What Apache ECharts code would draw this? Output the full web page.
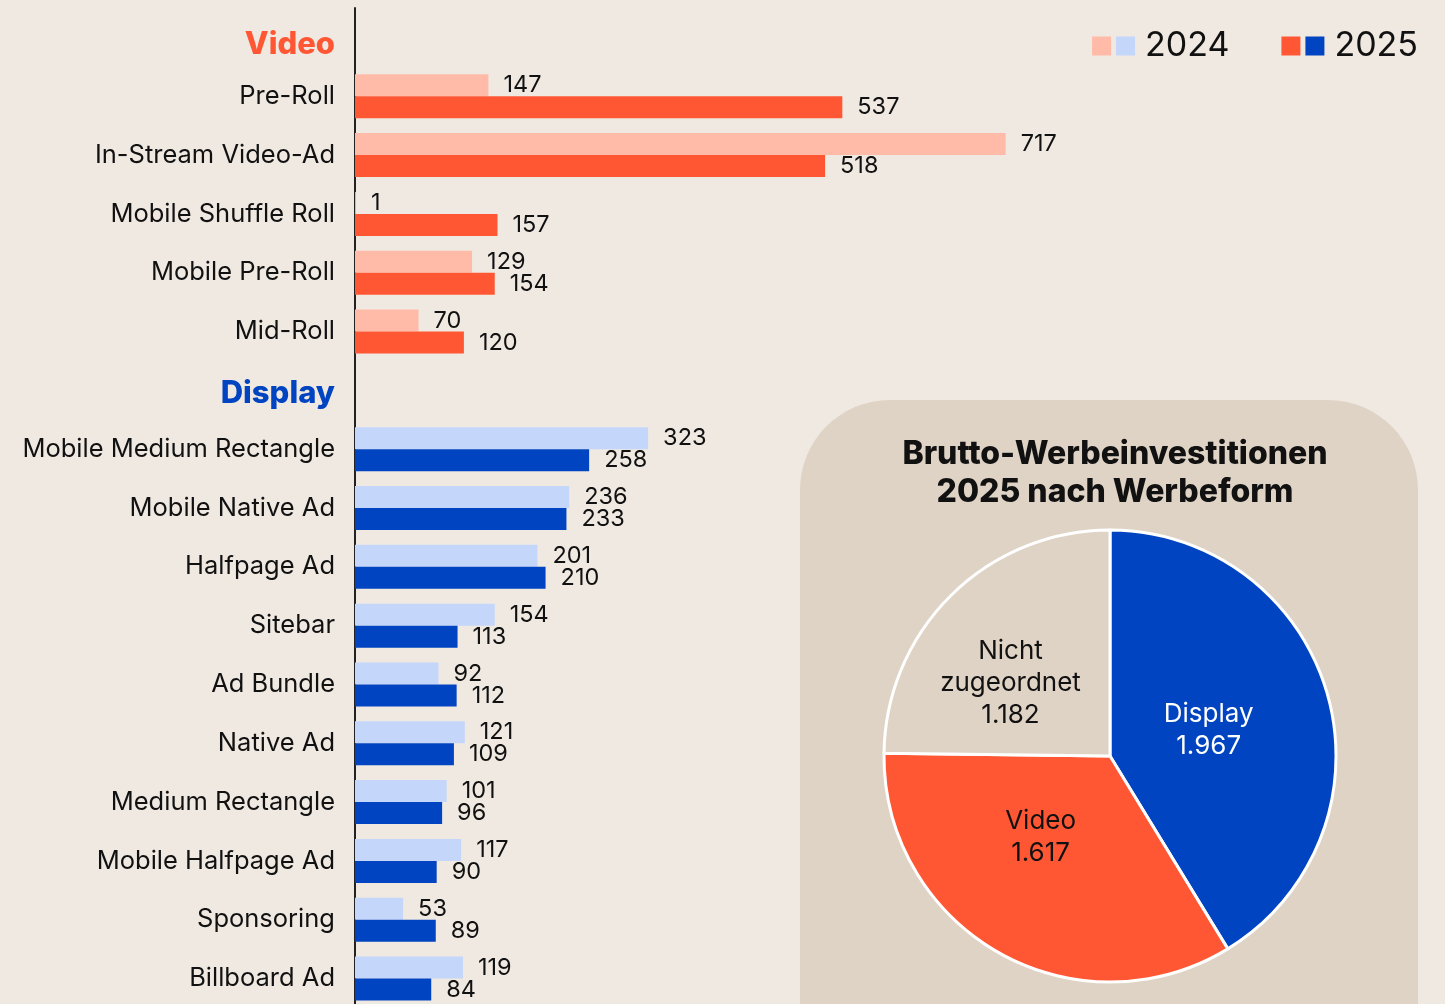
<!DOCTYPE html>
<html>
<head>
<meta charset="utf-8">
<script src="https://cdn.jsdelivr.net/npm/echarts@6/dist/echarts.min.js"></script>
<style>
  html, body { margin: 0; padding: 0; background: #F0E9E2; }
  #chart { width: 1445px; height: 1004px; }
</style>
</head>
<body>
<div id="chart"></div>
<script>
// Kategorien (Zwischenüberschriften haben keine Balken)
var categories = [
  'Video', 'Pre-Roll', 'In-Stream Video-Ad', 'Mobile Shuffle Roll', 'Mobile Pre-Roll', 'Mid-Roll',
  'Display', 'Mobile Medium Rectangle', 'Mobile Native Ad', 'Halfpage Ad', 'Sitebar', 'Ad Bundle',
  'Native Ad', 'Medium Rectangle', 'Mobile Halfpage Ad', 'Sponsoring', 'Billboard Ad'
];
var groups = [
  'head', 'video', 'video', 'video', 'video', 'video',
  'head', 'display', 'display', 'display', 'display', 'display',
  'display', 'display', 'display', 'display', 'display'
];
var values2024 = [null, 147, 717, 1, 129, 70, null, 323, 236, 201, 154, 92, 121, 101, 117, 53, 119];
var values2025 = [null, 537, 518, 157, 154, 120, null, 258, 233, 210, 113, 112, 109, 96, 90, 89, 84];

// Kreisdiagramm
var pieNames = ['Display', 'Video', 'Nicht\nzugeordnet'];
var pieValues = [1967, 1617, 1182];

var seriesNames = ['2024', '2025'];

var colors = {
  video: ['#FFBBA8', '#FF5733'],
  display: ['#C4D6FA', '#0044C1']
};
var pieColors = ['#0044C1', '#FF5733', '#DFD3C6'];
var pieLabelColors = ['#ffffff', '#111111', '#111111'];
// kleine Verschiebung der Kreis-Beschriftungen
var pieLabelShift = [[-13, 6], [-12, -20], [-18, 10]];

var font = 'Inter, "Noto Sans", sans-serif';

function barData(values, idx) {
  return values.map(function (v, i) {
    if (v === null) return '-';
    return { value: v, itemStyle: { color: colors[groups[i]][idx] } };
  });
}

function deNumber(n) {
  return String(n).replace(/\B(?=(\d{3})+(?!\d))/g, '.');
}

var chartDom = document.getElementById('chart');
var myChart = echarts.init(chartDom);

var barLabel = {
  show: true,
  position: 'right',
  distance: 15,
  fontSize: 23.5,
  color: '#111111',
  fontFamily: font
};

var option = {
  backgroundColor: '#F0E9E2',
  textStyle: { fontFamily: font },
  animation: false,
  title: {
    text: 'Brutto-Werbeinvestitionen\n2025 nach Werbeform',
    left: 1110,
    top: 430,
    textAlign: 'center',
    textStyle: {
      fontFamily: font,
      fontSize: 32,
      fontWeight: 800,
      lineHeight: 38,
      color: '#111111'
    }
  },
  graphic: [
    {
      type: 'rect',
      z: -10,
      shape: { x: 800, y: 400, width: 618, height: 720, r: 90 },
      style: { fill: '#DFD3C6' }
    }
  ],
  legend: {
    right: 22,
    top: 24,
    itemWidth: 19,
    itemHeight: 19,
    itemGap: 52,
    icon: 'rect',
    data: seriesNames,
    formatter: function (name) {
      return (name === '2024' ? '{b1|}' : '{b2|}') + '{t|' + name + '}';
    },
    textStyle: {
      rich: {
        b1: { width: 19, height: 19, backgroundColor: '#C4D6FA' },
        b2: { width: 19, height: 19, backgroundColor: '#0044C1' },
        t: { fontSize: 34, color: '#111111', padding: [0, 0, 0, 10], fontFamily: font }
      }
    }
  },
  grid: {
    left: 355,
    width: 726,
    top: 8,
    height: 1000,
    outerBoundsMode: 'none',
    containLabel: false
  },
  xAxis: {
    type: 'value',
    min: 0,
    max: 800,
    show: false
  },
  yAxis: {
    type: 'category',
    inverse: true,
    data: categories,
    axisLine: { show: true, lineStyle: { color: '#222222', width: 2 } },
    axisTick: { show: false },
    axisLabel: {
      margin: 20,
      fontSize: 25.5,
      color: '#111111',
      fontFamily: font,
      formatter: function (value) {
        if (value === 'Video') return '{hv|Video}';
        if (value === 'Display') return '{hd|Display}';
        return value;
      },
      rich: {
        hv: { fontSize: 31, fontWeight: 800, color: '#FF5733', padding: [14, 0, 0, 0], fontFamily: font },
        hd: { fontSize: 31, fontWeight: 800, color: '#0044C1', padding: [6, 0, 0, 0], fontFamily: font }
      }
    }
  },
  series: [
    {
      name: seriesNames[0],
      type: 'bar',
      barWidth: 22,
      barGap: '0%',
      itemStyle: { color: '#FFBBA8' },
      label: barLabel,
      data: barData(values2024, 0)
    },
    {
      name: seriesNames[1],
      type: 'bar',
      barWidth: 22,
      barGap: '0%',
      itemStyle: { color: '#FF5733' },
      label: barLabel,
      data: barData(values2025, 1)
    },
    {
      name: 'Werbeform',
      type: 'pie',
      radius: 226,
      center: [1110, 756],
      startAngle: 90,
      itemStyle: { borderColor: '#ffffff', borderWidth: 3 },
      labelLine: { show: false },
      label: {
        show: true,
        position: 'inside',
        fontSize: 26,
        lineHeight: 32,
        fontFamily: font,
        formatter: function (p) {
          return p.name + '\n' + deNumber(p.value);
        }
      },
      labelLayout: function (p) {
        var s = pieLabelShift[p.dataIndex];
        return { dx: s[0], dy: s[1] };
      },
      data: pieNames.map(function (n, i) {
        return {
          name: n,
          value: pieValues[i],
          itemStyle: { color: pieColors[i] },
          label: { color: pieLabelColors[i] }
        };
      })
    }
  ]
};

option && myChart.setOption(option);
</script>
</body>
</html>
